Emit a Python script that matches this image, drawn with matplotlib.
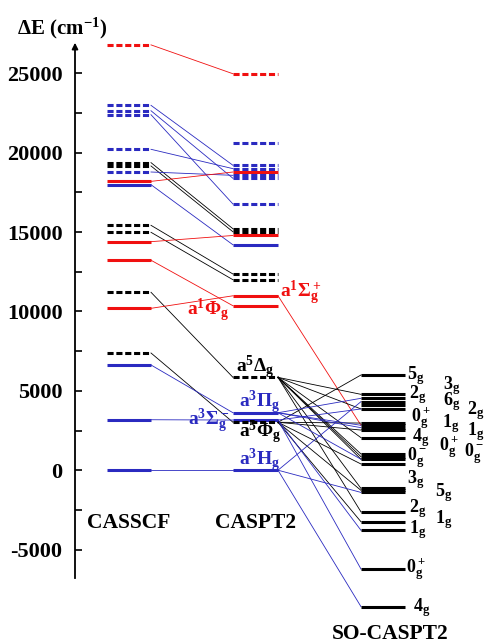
import matplotlib
matplotlib.use('Agg')
from matplotlib import pyplot as plt
import numpy as np

plt.rcParams['font.family'] = ['Liberation Serif', 'DejaVu Serif']
plt.rcParams['font.weight'] = 'bold'
plt.rcParams['axes.unicode_minus'] = False
plt.rcParams['mathtext.fontset'] = 'custom'
plt.rcParams['mathtext.rm'] = 'Liberation Serif:bold'
plt.rcParams['mathtext.it'] = 'Liberation Serif:bold'
plt.rcParams['mathtext.bf'] = 'Liberation Serif:bold'

RED = '#f01010'
BLUE = '#2a2ac0'
BLK = 'black'

# CASSCF levels (cm-1), colour, dashed?
casscf_E = [26800, 22990, 22650, 22400, 20220, 19380, 19170, 18790, 18200, 17990,
            15430, 14990, 14400, 13230, 11210, 10200, 7385, 6630, 3180, 0]
casscf_c = ['r', 'b', 'b', 'b', 'b', 'k', 'k', 'b', 'r', 'b',
            'k', 'k', 'r', 'r', 'k', 'r', 'k', 'b', 'b', 'b']
casscf_d = [1, 1, 1, 1, 1, 1, 1, 1, 0, 0,
            1, 1, 0, 0, 1, 0, 1, 0, 0, 0]

# CASPT2 levels
caspt2_E = [24980, 20620, 19210, 19000, 18790, 18580, 18390, 16770, 15210, 15020,
            14790, 14200, 12360, 12000, 10990, 10360, 5850, 3620, 3160, 3020, 0]
caspt2_c = ['r', 'b', 'b', 'b', 'r', 'b', 'b', 'b', 'k', 'k',
            'r', 'b', 'k', 'k', 'r', 'r', 'k', 'b', 'b', 'k', 'b']
caspt2_d = [1, 1, 1, 1, 0, 1, 1, 1, 1, 1,
            0, 0, 1, 1, 0, 0, 1, 0, 0, 1, 0]

# SO-CASPT2 levels
so_E = [6000, 4780, 4530, 4320, 4110, 3860, 2970, 2830, 2680, 2530, 2050,
        1020, 850, 690, 390, -1150, -1270, -1400, -2630, -3250, -3790, -6230, -8600]

# correlation lines CASSCF -> CASPT2
links12 = [(0, 0), (1, 2), (2, 6), (3, 7), (4, 3), (5, 8), (6, 9), (7, 5), (8, 4),
           (9, 11), (10, 12), (11, 13), (12, 10), (13, 15), (14, 16), (15, 14),
           (16, 19), (17, 17), (18, 18), (19, 20)]
# correlation lines CASPT2 -> SO-CASPT2
links23 = [(14, 7),
           (16, 1), (16, 5), (16, 10), (16, 11), (16, 12), (16, 13), (16, 15), (16, 18),
           (19, 0), (19, 6), (19, 9), (19, 14), (19, 16), (19, 19),
           (17, 2), (17, 7), (17, 8), (17, 13),
           (18, 5), (18, 20), (18, 21),
           (20, 3), (20, 17), (20, 22)]

# state labels
st_text = [r'a$^1\Sigma_g^+$', r'a$^1\Phi_g$', r'a$^5\Delta_g$', r'a$^3\Pi_g$',
           r'a$^3\Sigma_g^-$', r'a$^5\Phi_g$', r'a$^3$H$_g$']
st_col = ['r', 'r', 'k', 'b', 'b', 'k', 'b']
st_pos = [(280, 293), (187, 310), (236, 367), (239, 402), (188, 421), (239, 432), (239, 460)]

so_text = ['5$_g$', '3$_g$', '2$_g$', '6$_g$', '2$_g$', '0$_g^+$', '1$_g$', '1$_g$', '4$_g$',
           '0$_g^+$', '0$_g^-$', '0$_g^-$', '3$_g$', '5$_g$', '2$_g$', '1$_g$', '1$_g$',
           '0$_g^+$', '4$_g$']
so_pos = [(407, 376), (443, 386), (409, 395), (443, 402), (467, 411), (411, 418), (442, 424),
          (467, 432), (412, 438), (439, 447), (464, 454), (407, 458), (407, 480), (435, 493),
          (409, 509), (435, 520), (409, 530), (406, 569), (413, 608)]

cmap = {'r': RED, 'b': BLUE, 'k': BLK}

W, H = 488, 644
fig = plt.figure(figsize=(W / 100, H / 100), dpi=100)
ax = fig.add_axes([0, 0, 1, 1])

# pixel row -> energy
k = 0.01587
y0 = 470.2
def E(py):
    return (y0 - py) / k

ax.set_xlim(0, W)
ax.set_ylim(E(H), E(0))
for s in ['top', 'right', 'bottom']:
    ax.spines[s].set_visible(False)
ax.spines['left'].set_position(('data', 75))
ax.spines['left'].set_bounds(E(578), E(50))
ax.spines['left'].set_linewidth(1.3)
ax.set_xticks([])
ax.set_yticks(np.arange(-5000, 25001, 5000))
ax.set_yticks(np.arange(-2500, 25001, 5000), minor=True)
ax.tick_params(axis='y', which='both', direction='in', length=5, width=1.2, pad=9, labelsize=16)
for t in ax.get_yticklabels():
    t.set_fontweight('bold')
ax.annotate('', xy=(75, E(40)), xytext=(75, E(52)),
            arrowprops=dict(arrowstyle='-|>', color='k', lw=1.2, mutation_scale=9))

cols = [(107, 151), (233, 278), (361, 405)]
dash = (0, (2.0, 0.9))

def draw_levels(Es, cs, ds, x):
    for e, c, d in zip(Es, cs, ds):
        ax.plot(x, [e, e], color=cmap[c], lw=2.2, solid_capstyle='butt',
                linestyle=dash if d else '-', zorder=3)

draw_levels(casscf_E, casscf_c, casscf_d, cols[0])
draw_levels(caspt2_E, caspt2_c, caspt2_d, cols[1])
for e in so_E:
    ax.plot(cols[2], [e, e], color='k', lw=2.2, solid_capstyle='butt', zorder=3)

for i, j in links12:
    ax.plot([cols[0][1], cols[1][0]], [casscf_E[i], caspt2_E[j]],
            color=cmap[casscf_c[i]], lw=0.6, zorder=2)
for j, m in links23:
    ax.plot([cols[1][1], cols[2][0]], [caspt2_E[j], so_E[m]],
            color=cmap[caspt2_c[j]], lw=0.6, zorder=2)

def ftext(x, y, s, **kw):
    fig.text(x / W, 1 - y / H, s, fontweight='bold', **kw)

ftext(17, 28, r'$\Delta$E (cm$^{-1}$)', fontsize=15, va='center')
ftext(129, 523, 'CASSCF', fontsize=15.5, ha='center', va='center')
ftext(256, 523, 'CASPT2', fontsize=15.5, ha='center', va='center')
ftext(390, 634, 'SO-CASPT2', fontsize=15.5, ha='center', va='center')

for s, c, (x, y) in zip(st_text, st_col, st_pos):
    ftext(x, y, s, color=cmap[c], fontsize=14, va='center')
for s, (x, y) in zip(so_text, so_pos):
    ftext(x, y, s, color='k', fontsize=13, va='center')

fig.savefig('out.png', dpi=100)
